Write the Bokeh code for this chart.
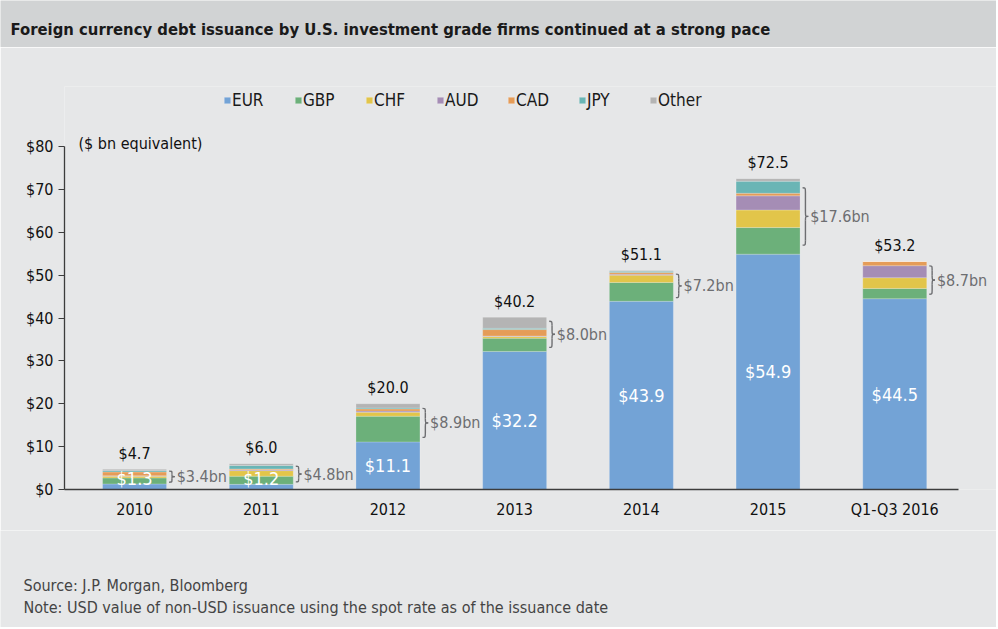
import numpy as np
from bokeh.plotting import figure
from bokeh.models import (ColumnDataSource, Label, Legend, LegendItem, FixedTicker, Range1d)
from bokeh.layouts import column
from bokeh.embed import file_html
from bokeh.resources import INLINE
from bokeh.core.properties import value

# ---------------- data ----------------
periods = ["2010", "2011", "2012", "2013", "2014", "2015", "Q1-Q3 2016"]
currencies = ["EUR", "GBP", "CHF", "AUD", "CAD", "JPY", "Other"]
eur = [1.3, 1.2, 11.1, 32.2, 43.9, 54.9, 44.5]
gbp = [1.4, 1.9, 6.0, 3.1, 4.4, 6.2, 2.4]
chf = [0.4, 1.3, 0.9, 0.4, 1.7, 4.1, 2.5]
aud = [0.1, 0.2, 0.3, 0.1, 0.2, 3.3, 2.8]
cad = [0.9, 0.2, 0.5, 1.5, 0.4, 0.6, 1.0]
jpy = [0.3, 0.8, 0.2, 0.3, 0.3, 2.8, 0.0]
other = [0.3, 0.4, 1.0, 2.6, 0.2, 0.6, 0.0]
y_ticks = [0, 10, 20, 30, 40, 50, 60, 70, 80]
y_tick_labels = ["$0", "$10", "$20", "$30", "$40", "$50", "$60", "$70", "$80"]

title_text = "Foreign currency debt issuance by U.S. investment grade firms continued at a strong pace"
unit_text = "($ bn equivalent)"
source_text = "Source: J.P. Morgan, Bloomberg"
note_text = "Note: USD value of non-USD issuance using the spot rate as of the issuance date"

# ---------------- style ----------------
FONT = "DejaVu Sans Condensed, Liberation Sans Narrow, Roboto Condensed, Roboto"
BG = "#e6e7e8"
HEAD_BG = "#d1d3d4"
colors = ["#73a3d6", "#6cb07a", "#e2c54a", "#a58db5", "#e59c58", "#6ab5b5", "#b4b4b4"]
W = 996
HEAD_H = 47
MAIN_H = 483
FOOT_H = 97
BAR_W = 0.505
X_LO, X_HI = -0.553, 6.505
X_VIEW_HI = 6.803


def blank_fig(h, bg):
    f = figure(width=W, height=h, x_range=Range1d(0, W), y_range=Range1d(0, h),
               toolbar_location=None, output_backend="svg",
               x_axis_location=None, y_axis_location=None, min_border=0,
               outline_line_color=None, background_fill_color=bg,
               border_fill_color=bg)
    f.grid.visible = False
    f.frame_align = False
    return f


# ---------------- header ----------------
head = blank_fig(HEAD_H, HEAD_BG)
head.add_layout(Label(x=10, y=18, x_units="screen", y_units="screen", text=title_text,
                      text_font=FONT, text_font_size="16.5px", text_font_style="bold",
                      text_baseline="middle", text_color="#1a1a1a"))

# ---------------- main ----------------
xs = np.arange(len(periods), dtype=float)
stack_data = dict(x=xs, EUR=eur, GBP=gbp, CHF=chf, AUD=aud, CAD=cad, JPY=jpy, Other=other)
src = ColumnDataSource(stack_data)

p = figure(width=W, height=MAIN_H, x_range=Range1d(X_LO, X_VIEW_HI), y_range=Range1d(0, 94.0),
           toolbar_location=None, output_backend="svg",
           min_border_left=64, min_border_right=0, min_border_top=39, min_border_bottom=41,
           background_fill_color=BG, border_fill_color=BG, outline_line_color=None)
p.grid.visible = False
p.frame_align = False

renderers = p.vbar_stack(currencies, x="x", width=BAR_W, color=colors, source=src,
                         line_color="white", line_alpha=0.35, line_width=0.6)

eur_a = np.array(eur)
totals = eur_a + np.array(gbp) + np.array(chf) + np.array(aud) + np.array(cad) + np.array(jpy) + np.array(other)
non_eur = totals - eur_a

# total labels
p.text(x=xs, y=totals, text=["${:.1f}".format(t) for t in totals],
       text_align="center", text_baseline="middle", y_offset=-16,
       text_font=value(FONT), text_font_size="16px", text_color="#111111")

# EUR labels
p.text(x=xs, y=np.maximum(eur_a / 2, 2.6), text=["${:.1f}".format(v) for v in eur_a],
       text_align="center", text_baseline="middle",
       text_font=value(FONT), text_font_size="18px", text_color="white")

# braces
x0 = xs + BAR_W / 2 + 0.02
bw = 0.045
xm = x0 + bw / 2
xt = x0 + bw
y_lo = eur_a + 0.12 * non_eur
y_hi = totals - 0.12 * non_eur
ym = (y_lo + y_hi) / 2
r = np.minimum((y_hi - y_lo) * 0.2, 1.0)
BR = dict(line_color="#6d6e71", line_width=1.4)
p.bezier(x0=x0, y0=y_hi, x1=xm, y1=y_hi - r, cx0=xm, cy0=y_hi, cx1=xm, cy1=y_hi, **BR)
p.bezier(x0=xm, y0=ym + r, x1=xt, y1=ym, cx0=xm, cy0=ym, cx1=xm, cy1=ym, **BR)
p.bezier(x0=xt, y0=ym, x1=xm, y1=ym - r, cx0=xm, cy0=ym, cx1=xm, cy1=ym, **BR)
p.bezier(x0=xm, y0=y_lo + r, x1=x0, y1=y_lo, cx0=xm, cy0=y_lo, cx1=xm, cy1=y_lo, **BR)
p.segment(x0=xm, y0=y_hi - r, x1=xm, y1=ym + r, **BR)
p.segment(x0=xm, y0=ym - r, x1=xm, y1=y_lo + r, **BR)

p.text(x=xt + 0.015, y=ym, text=["${:.1f}bn".format(v) for v in non_eur],
       text_align="left", text_baseline="middle",
       text_font=value(FONT), text_font_size="16px", text_color="#6d6e71")

# axes
p.yaxis.ticker = FixedTicker(ticks=y_ticks)
p.yaxis.major_label_overrides = {t: l for t, l in zip(y_ticks, y_tick_labels)}
p.yaxis.bounds = (0, 80)
p.xaxis.ticker = FixedTicker(ticks=list(xs))
p.xaxis.major_label_overrides = {float(i): lab for i, lab in zip(xs, periods)}
p.xaxis.bounds = (X_LO, X_HI)
for ax in (p.xaxis, p.yaxis):
    ax.axis_line_color = "#3c3c3c"
    ax.axis_line_width = 1.3
    ax.minor_tick_line_color = None
    ax.major_label_text_font = FONT
    ax.major_label_text_font_size = "16px"
    ax.major_label_text_color = "#111111"
p.xaxis.major_tick_line_color = None
p.xaxis.major_label_standoff = 4
p.yaxis.major_tick_line_color = "#3c3c3c"
p.yaxis.major_tick_out = 6
p.yaxis.major_tick_in = 0
p.yaxis.major_label_standoff = 5

# unit label
p.add_layout(Label(x=14, y=80, x_units="screen", y_units="data", text=unit_text,
                   text_font=FONT, text_font_size="16px", text_color="#111111",
                   text_baseline="middle", y_offset=3))

# legend
legend = Legend(items=[LegendItem(label=c, renderers=[r_]) for c, r_ in zip(currencies, renderers)],
                orientation="horizontal", location=(159, 379.5),
                glyph_width=8, glyph_height=8, label_standoff=1, label_width=59, spacing=3,
                padding=0, margin=0, border_line_color=None, background_fill_alpha=0,
                label_text_font=FONT, label_text_font_size="17px", label_text_color="#1a1a1a")
p.add_layout(legend, "center")

# ---------------- footer ----------------
foot = blank_fig(FOOT_H, BG)
foot.add_layout(Label(x=23, y=42, x_units="screen", y_units="screen", text=source_text,
                      text_font=FONT, text_font_size="16px", text_color="#444444",
                      text_baseline="middle"))
foot.add_layout(Label(x=23, y=20, x_units="screen", y_units="screen", text=note_text,
                      text_font=FONT, text_font_size="16px", text_color="#444444",
                      text_baseline="middle"))

layout = column(head, p, foot, spacing=0)
open("out.html", "w").write(file_html(layout, INLINE))
